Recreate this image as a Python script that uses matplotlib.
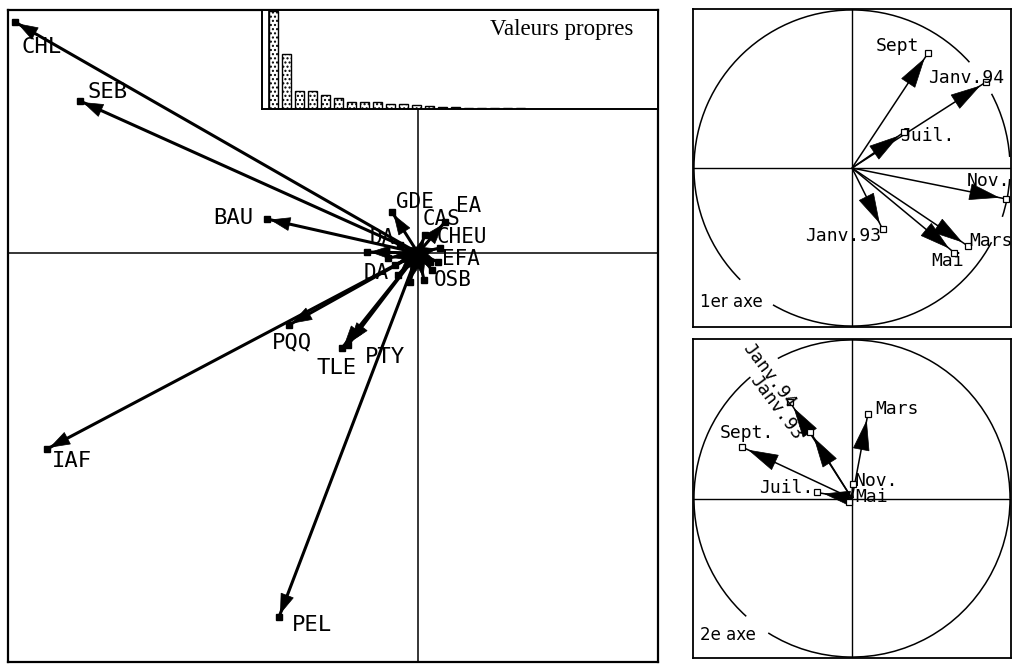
import numpy as np
import matplotlib
matplotlib.use("Agg")
import matplotlib.pyplot as plt
from matplotlib.patches import Polygon, Arc

W, H = 1015, 666

# ---------------- data ----------------
# main plane (variables), arbitrary units; "" = arrow hidden in the central cluster
main_labels = ["CHL", "SEB", "BAU", "PQQ", "TLE", "PTY", "IAF", "PEL",
               "GDE", "EA", "CAS", "CHEU", "EFA", "OSB", "DA", "DA",
               "", "", "", "", "", ""]
main_x = [-4.03, -3.38, -1.51, -1.29, -0.76, -0.70, -3.71, -1.39,
          -0.26, 0.27, 0.07, 0.22, 0.20, 0.14, -0.23, -0.51,
          -0.20, -0.08, 0.06, -0.18, 0.12, -0.30]
main_y = [2.31, 1.52, 0.34, -0.72, -0.95, -0.92, -1.96, -3.64,
          0.41, 0.31, 0.18, 0.05, -0.09, -0.17, -0.12, 0.01,
          -0.22, -0.29, -0.27, 0.08, -0.09, -0.05]

# eigenvalues
eigen_values = [9.85, 5.5, 1.85, 1.85, 1.4, 1.1, 0.75, 0.75, 0.7, 0.55,
                0.5, 0.45, 0.3, 0.2, 0.2, 0.15, 0.15, 0.15, 0.1, 0.1]

# circle of correlations, 1st axis
top_labels = ["Sept", "Janv.94", "Juil.", "Nov.", "Mars", "Mai", "Janv.93"]
top_x = [0.483, 0.848, 0.331, 0.975, 0.734, 0.647, 0.194]
top_y = [0.730, 0.544, 0.228, -0.196, -0.494, -0.536, -0.388]

# circle of correlations, 2nd axis
bot_labels = ["Mars", "Janv.94", "Janv.93", "Sept.", "Juil.", "Nov.", "Mai"]
bot_x = [0.101, -0.392, -0.264, -0.696, -0.222, 0.004, -0.021]
bot_y = [0.536, 0.608, 0.420, 0.325, 0.038, 0.093, -0.023]

# ---------------- layout (label offsets in pixels, font sizes) ----------------
main_off = [(27, -25), (28, 9), (-34, 1), (3, -17), (-5, -20), (37, -12),
            (25, -12), (33, -8), (23, 10), (24, 16), (17, 16), (22, 11),
            (23, 3), (21, -10), (-19, -8), (15, 14),
            (0, 0), (0, 0), (0, 0), (0, 0), (0, 0), (0, 0)]
main_fs = [16] * 8 + [15] * 14
top_off = [(-31, 7), (-20, 4), (23, -4), (-18, 18), (23, 5), (-7, -8), (-40, -7)]
bot_off = [(29, 5), (-21, 27), (-34, 25), (5, 14), (-31, 4), (24, 3), (23, 5)]
bot_rot = [0, -53, -53, 0, 0, 0, 0]


def box(x0, y0, x1, y1):
    return [x0 / W, 1 - y1 / H, (x1 - x0) / W, (y1 - y0) / H]


def draw_arrow(ax, x, y, head_len, head_w, back, lw):
    ax.plot([0, x], [0, y], color="k", lw=lw, solid_capstyle="butt", zorder=2)
    L = np.hypot(x, y)
    if L <= 1e-9:
        return
    ux, uy = x / L, y / L
    tip = L - back
    if tip <= 0:
        return
    hl = min(head_len, tip * 0.9)
    hw = head_w * hl / head_len
    base = tip - hl
    pts = [(ux * tip, uy * tip),
           (ux * base - uy * hw, uy * base + ux * hw),
           (ux * base + uy * hw, uy * base - ux * hw)]
    ax.add_patch(Polygon(pts, closed=True, facecolor="k", edgecolor="k",
                         lw=0.5, zorder=3))


fig = plt.figure(figsize=(W / 100, H / 100), dpi=100)

# ---------------- main panel ----------------
ax = fig.add_axes(box(8, 10, 658, 662))
ax.set_xlim(-4.10, 2.40)
ax.set_ylim(-4.09, 2.43)
ax.set_xticks([])
ax.set_yticks([])
for s in ax.spines.values():
    s.set_linewidth(1.6)
ax.axhline(0, color="k", lw=1.1, zorder=1)
ax.plot([0, 0], [-4.09, 1.45], color="k", lw=1.1, zorder=1)

for lab, x, y, off, fs in zip(main_labels, main_x, main_y, main_off, main_fs):
    draw_arrow(ax, x, y, head_len=0.19, head_w=0.065, back=0.04, lw=2.2)
    ax.plot(x, y, marker="s", ms=5, mfc="k", mec="k", zorder=4)
    if lab:
        ax.annotate(lab, xy=(x, y), xytext=off, textcoords="offset pixels",
                    ha="center", va="center", fontsize=fs,
                    family="DejaVu Sans Mono", zorder=5)

# eigenvalue inset
axi = fig.add_axes(box(262, 10, 658, 109))
n = len(eigen_values)
pos = np.arange(n)
axi.bar(pos, eigen_values, width=0.69, facecolor="white", edgecolor="k",
        hatch="....", lw=1.0)
axi.set_xlim(-0.92, 396 / 13 - 0.92)
axi.set_ylim(0, 9.9)
axi.axvline(-0.38, color="k", lw=1.2)
axi.set_xticks([])
axi.set_yticks([])
for s in axi.spines.values():
    s.set_linewidth(1.4)
fig.text(490 / W, 1 - 35 / H, "Valeurs propres", family="Liberation Serif",
         fontsize=16.5, ha="left", va="baseline")


# ---------------- correlation circles ----------------
def circle_panel(rect, labels, xs, ys, offs, rots, arcs, axis_label, axis_y):
    a = fig.add_axes(box(*rect))
    lim = 1.006
    a.set_xlim(-lim, lim)
    a.set_ylim(-lim, lim)
    a.set_xticks([])
    a.set_yticks([])
    for s in a.spines.values():
        s.set_linewidth(1.3)
    a.axhline(0, color="k", lw=1.0, zorder=1)
    a.axvline(0, color="k", lw=1.0, zorder=1)
    for t1, t2 in arcs:
        a.add_patch(Arc((0, 0), 2, 2, theta1=t1, theta2=t2, color="k", lw=1.1))
    for lab, x, y, off, r in zip(labels, xs, ys, offs, rots):
        draw_arrow(a, x, y, head_len=0.18, head_w=0.05, back=0.05, lw=1.1)
        a.plot(x, y, marker="s", ms=4, mfc="white", mec="k", mew=0.9, zorder=4)
        a.annotate(lab, xy=(x, y), xytext=off, textcoords="offset pixels",
                   ha="center", va="center", fontsize=13, rotation=r,
                   family="DejaVu Sans Mono", zorder=5)
    fig.text(700 / W, 1 - axis_y / H, axis_label, family="DejaVu Sans",
             fontsize=12, ha="left", va="center")
    return a


circle_panel((693, 9, 1011, 327), top_labels, top_x, top_y, top_off,
             [0] * len(top_labels),
             [(42, 225), (240, 332), (342, 356), (4, 28)], "1er axe", 302)
circle_panel((693, 339, 1011, 658), bot_labels, bot_x, bot_y, bot_off,
             bot_rot, [(130, 228), (238, 360), (0, 118)], "2e axe", 635)

fig.savefig("out.png", dpi=100)
